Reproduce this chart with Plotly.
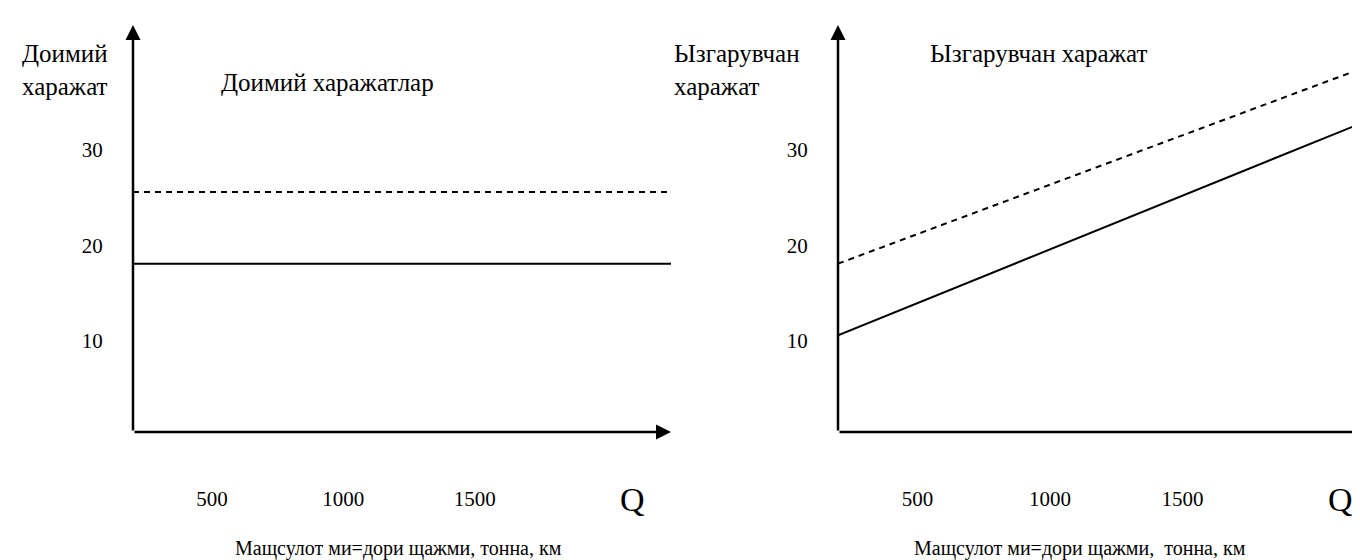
import plotly.graph_objects as go

# ---- data ----
q_ticks = [500, 1000, 1500]
q_tick_labels = ["500", "1000", "1500"]
cost_ticks = [10, 20, 30]
cost_tick_labels = ["10", "20", "30"]

# left panel: fixed costs (constant over Q)
q_fixed = [200, 2246]
fixed_solid = [18.1, 18.1]
fixed_dashed = [25.6, 25.6]

# right panel: variable costs (grow with Q)
q_var_solid = [200, 2200]
var_solid = [10.6, 33.1]
q_var_dashed = [200, 2143]
var_dashed = [18.1, 38.2]

# axis extents
q_range_left = [200, 2246]
q_range_right = [200, 2200]
cost_range = [0.47, 43.1]

W, H = 1360, 560
FONT = "Liberation Serif, Times New Roman, serif"
BLACK = "#000000"

fig = go.Figure()

fig.add_trace(go.Scatter(x=q_fixed, y=fixed_solid, mode="lines",
                         line=dict(color=BLACK, width=2), xaxis="x", yaxis="y",
                         showlegend=False, hoverinfo="skip"))
fig.add_trace(go.Scatter(x=q_fixed, y=fixed_dashed, mode="lines",
                         line=dict(color=BLACK, width=2, dash="6px,5px"), xaxis="x", yaxis="y",
                         showlegend=False, hoverinfo="skip"))
fig.add_trace(go.Scatter(x=q_var_solid, y=var_solid, mode="lines",
                         line=dict(color=BLACK, width=2), xaxis="x2", yaxis="y2",
                         showlegend=False, hoverinfo="skip"))
fig.add_trace(go.Scatter(x=q_var_dashed, y=var_dashed, mode="lines",
                         line=dict(color=BLACK, width=2, dash="6px,5px"), xaxis="x2", yaxis="y2",
                         showlegend=False, hoverinfo="skip"))

ydom = [1 - 424 / H, 1 - 17 / H]
tickfont = dict(family=FONT, size=21, color=BLACK)

def xax(domain, rng):
    return dict(domain=domain, range=rng, showgrid=False, zeroline=False, showline=False,
                tickvals=q_ticks, ticktext=q_tick_labels, ticks="outside", ticklen=48,
                tickcolor="rgba(0,0,0,0)", tickfont=tickfont, fixedrange=True)

def yax(anchor, rng):
    return dict(domain=ydom, range=rng, anchor=anchor, showgrid=False, zeroline=False,
                showline=False, tickvals=cost_ticks, ticktext=cost_tick_labels,
                ticks="outside", ticklen=25, tickcolor="rgba(0,0,0,0)", tickfont=tickfont,
                fixedrange=True)

fig.update_layout(
    width=W, height=H, autosize=False,
    margin=dict(l=0, r=0, t=0, b=0),
    paper_bgcolor="white", plot_bgcolor="white",
    font=dict(family=FONT, color=BLACK),
    xaxis=dict(**xax([125 / W, 663 / W], q_range_left), anchor="y"),
    yaxis=yax("x", cost_range),
    xaxis2=dict(**xax([830 / W, 1.0], q_range_right), anchor="y2"),
    yaxis2=yax("x2", cost_range),
)

ann = []
# axis arrows
for xr, yr, qr in [("x", "y", q_range_left), ("x2", "y2", q_range_right)]:
    ann.append(dict(x=qr[1], y=cost_range[0], ax=qr[0], ay=cost_range[0],
                    xref=xr, yref=yr, axref=xr, ayref=yr, text="", showarrow=True,
                    arrowhead=2, arrowsize=1.2, arrowwidth=2.5, arrowcolor=BLACK, standoff=0))
    ann.append(dict(x=qr[0], y=cost_range[1], ax=qr[0], ay=cost_range[0],
                    xref=xr, yref=yr, axref=xr, ayref=yr, text="", showarrow=True,
                    arrowhead=2, arrowsize=1.2, arrowwidth=2.5, arrowcolor=BLACK, standoff=0))

def txt(x, y, s, size=25, xanchor="center", align="center"):
    return dict(x=x / W, y=1 - y / H, xref="paper", yref="paper", text=s, showarrow=False,
                xanchor=xanchor, yanchor="middle", align=align,
                font=dict(family=FONT, size=size, color=BLACK))

ann += [
    txt(102, 62, "Доимий<br>харажат", xanchor="right", align="right"),
    txt(319, 75, "Доимий харажатлар"),
    txt(664, 62, "Ызгарувчан<br>харажат", xanchor="left", align="left"),
    txt(1030, 45, "Ызгарувчан харажат"),
    txt(624, 491, "Q", size=34),
    txt(1332, 491, "Q", size=34),
    txt(390, 540, "Мащсулот ми=дори щажми, тонна, км", size=20),
    txt(1072, 540, "Мащсулот ми=дори щажми,  тонна, км", size=20),
]
fig.update_layout(annotations=ann)

fig.write_html("out.html")
